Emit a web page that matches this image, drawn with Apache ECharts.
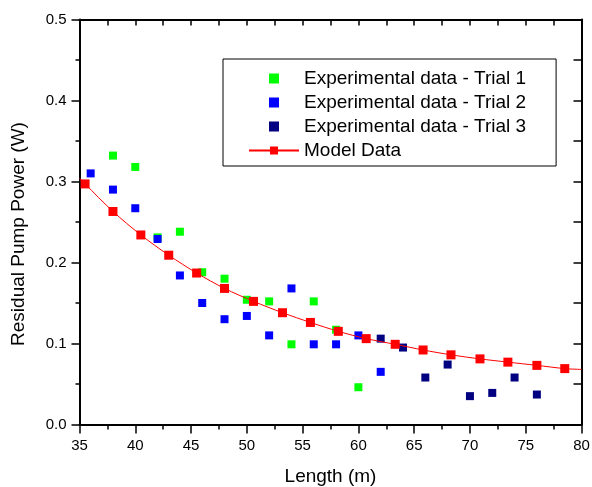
<!DOCTYPE html>
<html><head><meta charset="utf-8">
<script src="https://cdn.jsdelivr.net/npm/echarts@6/dist/echarts.min.js"></script>
<style>html,body{margin:0;padding:0;background:#fff}#c{width:592px;height:487px}</style>
</head><body><div id="c"></div>
<script>
const xTicks = [35, 40, 45, 50, 55, 60, 65, 70, 75, 80];
const yTicks = [0.0, 0.1, 0.2, 0.3, 0.4, 0.5];

const trial1X = [38, 40, 42, 44, 46, 48, 50, 52, 54, 56, 58, 60];
const trial1Y = [0.332, 0.318, 0.231, 0.238, 0.188, 0.180, 0.154, 0.152, 0.099, 0.152, 0.117, 0.046];

const trial2X = [36, 38, 40, 42, 44, 46, 48, 50, 52, 54, 56, 58, 60, 62];
const trial2Y = [0.310, 0.290, 0.267, 0.229, 0.184, 0.150, 0.130, 0.134, 0.110, 0.168, 0.099, 0.099, 0.110, 0.065];

const trial3X = [62, 64, 66, 68, 70, 72, 74, 76];
const trial3Y = [0.106, 0.095, 0.058, 0.074, 0.035, 0.039, 0.058, 0.037];

const modelX = [35.5, 38, 40.5, 43, 45.5, 48, 50.6, 53.2, 55.7, 58.2, 60.7, 63.3, 65.8, 68.3, 70.9, 73.4, 76, 78.5];
const modelY = [0.297, 0.263, 0.234, 0.209, 0.187, 0.168, 0.152, 0.138, 0.126, 0.115, 0.106, 0.099, 0.092, 0.086, 0.081, 0.077, 0.073, 0.069];
// curve continues to the plot edges without markers
const curveStart = [35, 0.304];
const curveEnd = [80, 0.068];

const names = ['Experimental data - Trial 1', 'Experimental data - Trial 2', 'Experimental data - Trial 3', 'Model Data'];
const colors = ['#00ff00', '#0000ff', '#000080', '#ff0000'];

const pairs = (xs, ys) => xs.map((x, i) => [x, ys[i]]);
const modelData = [{value: curveStart, symbol: 'none'}]
  .concat(pairs(modelX, modelY))
  .concat([{value: curveEnd, symbol: 'none'}]);

const font = 'Arial, "Liberation Sans", sans-serif';
const axisLine = {show: true, onZero: false, lineStyle: {color: '#000', width: 2}};
const tickStyle = {color: '#000', width: 1.5};
// square legend marker centred in a wide icon slot
const squareIcon = 'path://M0,5L0,5ZM50,5L50,5ZM20,0H30V10H20Z';

const chart = echarts.init(document.getElementById('c'), null, {renderer: 'canvas'});
chart.setOption({
  animation: false,
  backgroundColor: '#fff',
  grid: {left: 79.5, right: 10.5, top: 19.5, bottom: 62.5, containLabel: false, outerBoundsMode: 'none'},
  legend: {
    orient: 'vertical', left: 223, top: 59,
    padding: [10, 30, 6, 25],
    borderColor: '#000', borderWidth: 1,
    itemWidth: 50, itemHeight: 10, itemGap: 5,
    symbolKeepAspect: true,
    textStyle: {fontFamily: font, fontSize: 19, color: '#000'},
    data: [
      {name: names[0], icon: squareIcon},
      {name: names[1], icon: squareIcon},
      {name: names[2], icon: squareIcon},
      {name: names[3]}
    ]
  },
  xAxis: [
    {type: 'value', position: 'bottom', min: 35, max: 80, interval: 5,
     name: 'Length (m)', nameLocation: 'middle', nameGap: 43,
     nameTextStyle: {fontFamily: font, fontSize: 19, color: '#000'},
     axisLine: axisLine,
     axisTick: {show: true, inside: false, length: 9, lineStyle: tickStyle},
     minorTick: {show: true, splitNumber: 2, length: 5, lineStyle: tickStyle},
     axisLabel: {fontFamily: font, fontSize: 15, color: '#000', margin: 14},
     splitLine: {show: false}},
    {type: 'value', position: 'top', min: 35, max: 80, interval: 2.5,
     axisLine: axisLine,
     axisTick: {show: true, inside: true, length: 6, lineStyle: tickStyle},
     minorTick: {show: false},
     axisLabel: {show: false}, splitLine: {show: false}}
  ],
  yAxis: [
    {type: 'value', position: 'left', min: 0, max: 0.5, interval: 0.1,
     name: 'Residual Pump Power (W)', nameLocation: 'middle', nameGap: 51,
     nameTextStyle: {fontFamily: font, fontSize: 19, color: '#000', padding: [0, 24, 0, 0]},
     axisLine: axisLine,
     axisTick: {show: true, inside: false, length: 8, lineStyle: tickStyle},
     minorTick: {show: true, splitNumber: 2, length: 4, lineStyle: tickStyle},
     axisLabel: {fontFamily: font, fontSize: 15, color: '#000', margin: 13, formatter: v => v.toFixed(1)},
     splitLine: {show: false}},
    {type: 'value', position: 'right', min: 0, max: 0.5, interval: 0.05,
     axisLine: axisLine,
     axisTick: {show: true, inside: true, length: 8, lineStyle: tickStyle},
     minorTick: {show: false},
     axisLabel: {show: false}, splitLine: {show: false}}
  ],
  series: [
    {name: names[0], type: 'scatter', symbol: 'rect', symbolSize: 8, itemStyle: {color: colors[0], opacity: 1}, data: pairs(trial1X, trial1Y), z: 3},
    {name: names[1], type: 'scatter', symbol: 'rect', symbolSize: 8, itemStyle: {color: colors[1], opacity: 1}, data: pairs(trial2X, trial2Y), z: 3},
    {name: names[2], type: 'scatter', symbol: 'rect', symbolSize: 8, itemStyle: {color: colors[2], opacity: 1}, data: pairs(trial3X, trial3Y), z: 3},
    {name: names[3], type: 'line', symbol: 'rect', symbolSize: 9, showSymbol: true, smooth: 0.3,
     lineStyle: {color: colors[3], width: 1}, itemStyle: {color: colors[3], opacity: 1}, data: modelData, z: 4}
  ]
});
</script></body></html>
